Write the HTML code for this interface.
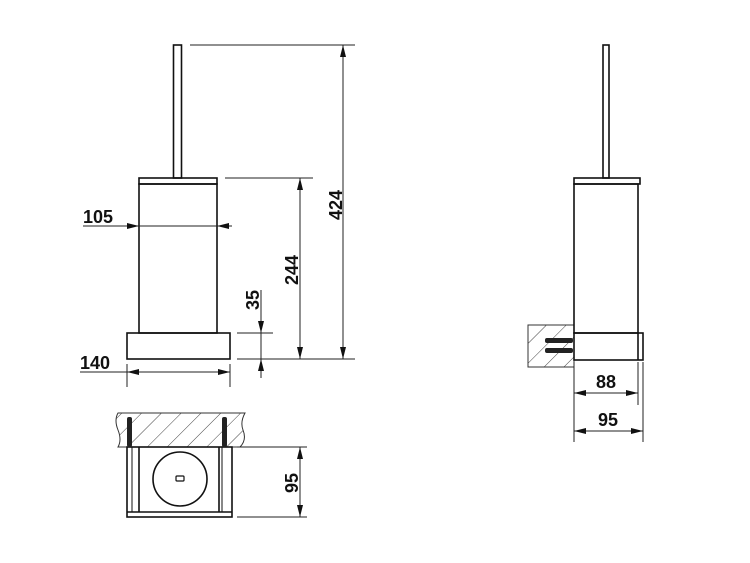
<!DOCTYPE html>
<html><head><meta charset="utf-8"><style>
html,body{margin:0;padding:0;background:#fff;}
svg{display:block;}
text{font-family:"Liberation Sans",Arial,sans-serif;font-weight:bold;font-size:18px;fill:#111;}
</style></head><body>
<svg width="750" height="563" viewBox="0 0 750 563" xmlns="http://www.w3.org/2000/svg">
<defs>
<marker id="a" viewBox="0 0 12 6" refX="12" refY="3" markerWidth="12" markerHeight="6" orient="auto-start-reverse" markerUnits="userSpaceOnUse"><path d="M0,0 L12,3 L0,6 Z" fill="#111"/></marker>
<pattern id="h" patternUnits="userSpaceOnUse" width="14" height="14" patternTransform="rotate(45)"><line x1="0" y1="0" x2="0" y2="14" stroke="#444" stroke-width="1"/></pattern>
</defs>
<g fill="none" stroke="#111" stroke-width="1.6">
<rect x="173.5" y="45" width="8" height="133"/>
<rect x="139" y="178" width="78" height="6"/>
<rect x="139" y="184" width="78" height="149"/>
<rect x="127" y="333" width="103" height="26"/>
</g>
<g stroke="#222" stroke-width="1" fill="none">
<line x1="190" y1="45" x2="355" y2="45"/>
<line x1="225" y1="178" x2="313" y2="178"/>
<line x1="237" y1="333" x2="273" y2="333"/>
<line x1="237" y1="359" x2="355" y2="359"/>
<line x1="343" y1="45" x2="343" y2="359" marker-start="url(#a)" marker-end="url(#a)"/>
<line x1="300" y1="178" x2="300" y2="359" marker-start="url(#a)" marker-end="url(#a)"/>
<line x1="261" y1="290" x2="261" y2="333" marker-end="url(#a)"/>
<line x1="261" y1="359" x2="261" y2="378" marker-start="url(#a)"/>
<line x1="261" y1="333" x2="261" y2="359"/>
<line x1="83" y1="226" x2="139" y2="226" marker-end="url(#a)"/>
<line x1="139" y1="226" x2="217" y2="226"/>
<line x1="217" y1="226" x2="232" y2="226" marker-start="url(#a)"/>
<line x1="80" y1="372" x2="230" y2="372"/>
<line x1="127" y1="372" x2="230" y2="372" marker-start="url(#a)" marker-end="url(#a)"/>
<line x1="127" y1="364" x2="127" y2="387"/>
<line x1="230" y1="364" x2="230" y2="387"/>
</g>
<text x="83" y="223">105</text>
<text x="80" y="369">140</text>
<text transform="translate(298,270) rotate(-90)" text-anchor="middle">244</text>
<text transform="translate(342,205) rotate(-90)" text-anchor="middle">424</text>
<text transform="translate(259,300) rotate(-90)" text-anchor="middle">35</text>
<path d="M118,413 L245,413 Q240,422 243,430 Q247,440 240,447 L118,447 Q122,440 118,430 Q114,420 118,413 Z" fill="url(#h)" stroke="#333" stroke-width="1"/>
<g fill="none" stroke="#111" stroke-width="1.6">
<rect x="127" y="447" width="105" height="70"/>
<line x1="139" y1="447" x2="139" y2="512"/>
<line x1="219" y1="447" x2="219" y2="512"/>
<line x1="127" y1="512" x2="232" y2="512"/>
<circle cx="180" cy="479" r="27"/>
<rect x="176" y="476" width="8" height="5" rx="1" stroke-width="1.2"/>
</g>
<rect x="127" y="417" width="5" height="30" fill="#222" rx="2"/>
<rect x="222" y="417" width="5" height="30" fill="#222" rx="2"/>
<line x1="132" y1="447" x2="132" y2="512" stroke="#111" stroke-width="1"/>
<line x1="222" y1="447" x2="222" y2="512" stroke="#111" stroke-width="1"/>
<g stroke="#222" stroke-width="1" fill="none">
<line x1="237" y1="447" x2="307" y2="447"/>
<line x1="237" y1="517" x2="307" y2="517"/>
<line x1="300" y1="447" x2="300" y2="517" marker-start="url(#a)" marker-end="url(#a)"/>
</g>
<text transform="translate(298,483) rotate(-90)" text-anchor="middle">95</text>
<rect x="528" y="325" width="46" height="42" fill="url(#h)" stroke="#333" stroke-width="1"/>
<g fill="none" stroke="#111" stroke-width="1.6">
<rect x="603" y="45" width="6" height="133"/>
<rect x="574" y="178" width="66" height="6"/>
<rect x="574" y="184" width="64" height="149"/>
<rect x="574" y="333" width="69" height="27"/>
<line x1="638" y1="333" x2="638" y2="360"/>
</g>
<rect x="545" y="338" width="28" height="5" fill="#222" rx="2"/>
<rect x="545" y="348" width="28" height="5" fill="#222" rx="2"/>
<g stroke="#222" stroke-width="1" fill="none">
<line x1="574" y1="362" x2="574" y2="442"/>
<line x1="638" y1="362" x2="638" y2="405"/>
<line x1="643" y1="362" x2="643" y2="442"/>
<line x1="574" y1="393" x2="638" y2="393" marker-start="url(#a)" marker-end="url(#a)"/>
<line x1="574" y1="431" x2="643" y2="431" marker-start="url(#a)" marker-end="url(#a)"/>
</g>
<text x="606" y="388" text-anchor="middle">88</text>
<text x="608" y="426" text-anchor="middle">95</text>
</svg>
</body></html>
